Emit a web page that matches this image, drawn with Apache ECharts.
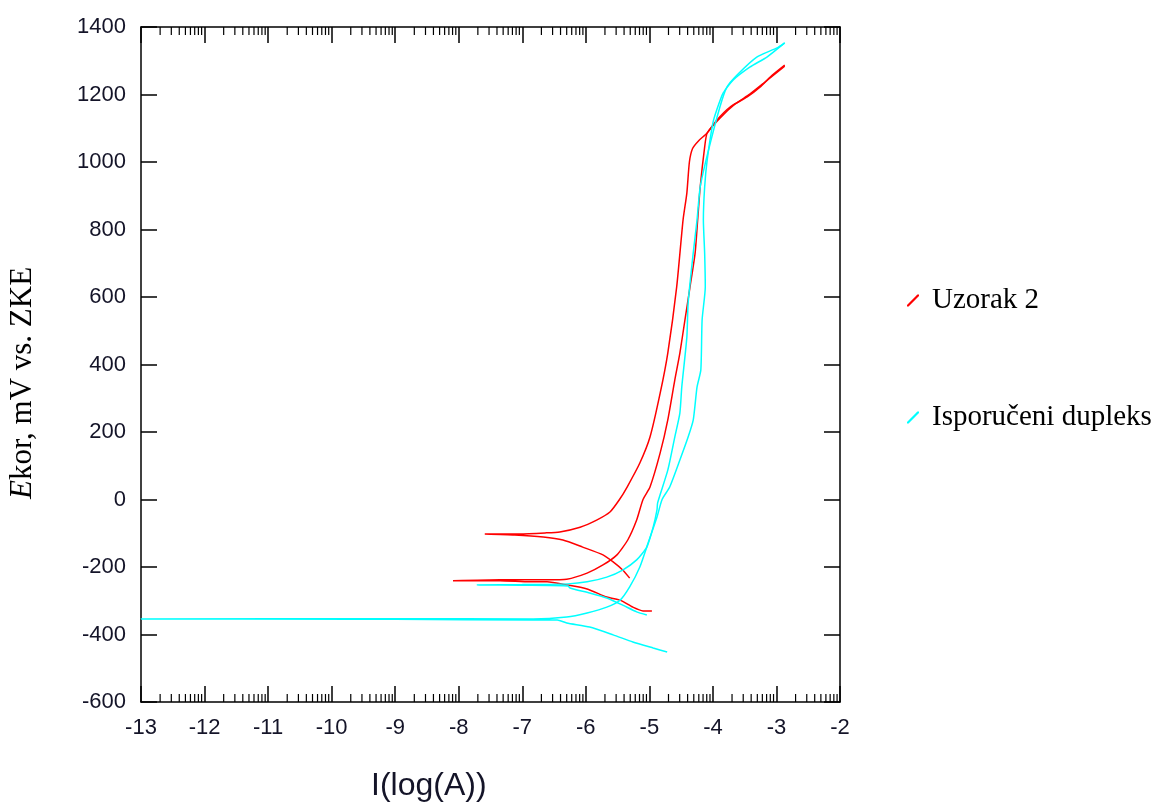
<!DOCTYPE html>
<html>
<head>
<meta charset="utf-8">
<script src="https://cdn.jsdelivr.net/npm/echarts@6/dist/echarts.min.js"></script>
<style>
  html, body { margin: 0; padding: 0; background: #fff; }
  #chart { width: 1159px; height: 806px; }
</style>
</head>
<body>
<div id="chart"></div>
<script>
// Uzorak 2 - dva mjerenja (katodna grana -> Ekor -> anodna grana)
var uzorakA = [
  [-5.31,-233],[-5.42,-209],[-5.57,-185],[-5.73,-164],[-6.05,-141],[-6.36,-120],[-6.67,-111],
  [-7.12,-105],[-7.59,-102],[-7.04,-102],[-6.64,-99],[-6.41,-96],[-6.09,-82],[-5.83,-61],
  [-5.62,-37],[-5.47,0],[-5.35,37],[-5.15,108],[-4.99,185],[-4.83,315],[-4.71,434],[-4.57,630],
  [-4.47,828],[-4.41,908],[-4.37,1000],[-4.32,1040],[-4.22,1064],[-4.09,1086],[-3.94,1124],
  [-3.73,1163],[-3.46,1193],[-3.26,1222],[-3.06,1258],[-2.87,1287]
];
var uzorakB = [
  [-4.96,-330],[-5.10,-330],[-5.26,-319],[-5.46,-298],[-5.67,-289],[-5.98,-265],[-6.30,-253],
  [-6.61,-244],[-6.88,-244],[-7.35,-241],[-8.09,-241],[-7.35,-238],[-6.61,-238],[-6.30,-236],
  [-5.98,-218],[-5.73,-194],[-5.51,-164],[-5.34,-120],[-5.20,-61],[-5.10,0],[-4.99,37],
  [-4.83,138],[-4.71,236],[-4.60,354],[-4.52,434],[-4.44,532],[-4.36,630],[-4.28,730],
  [-4.24,828],[-4.20,926],[-4.13,1044],[-4.09,1086],[-3.89,1130],[-3.65,1172],[-3.42,1201],
  [-3.18,1237],[-2.87,1284]
];
// Isporučeni dupleks
var dupleksA = [
  [-5.04,-342],[-5.20,-333],[-5.42,-313],[-5.67,-292],[-5.94,-277],[-6.25,-262],[-6.28,-256],
  [-7.00,-254],[-7.71,-253],[-7.00,-252],[-6.28,-250],[-5.98,-244],[-5.67,-230],[-5.42,-209],
  [-5.20,-179],[-5.04,-141],[-4.94,-82],[-4.88,-31],[-4.87,-10],[-4.71,87],[-4.60,185],
  [-4.52,256],[-4.49,333],[-4.41,481],[-4.39,582],[-4.31,730],[-4.25,828],[-4.20,926],
  [-4.08,1027],[-3.89,1163],[-3.78,1222],[-3.62,1258],[-3.31,1311],[-2.99,1338],[-2.87,1353]
];
var dupleksB = [
  [-4.72,-452],[-4.94,-440],[-5.26,-422],[-5.57,-401],[-5.94,-378],[-6.30,-366],[-6.45,-357],
  [-6.83,-357],[-9.00,-355],[-13.0,-354],[-9.00,-353],[-6.83,-354],[-6.30,-348],[-5.98,-336],
  [-5.67,-319],[-5.46,-298],[-5.31,-259],[-5.15,-200],[-5.02,-129],[-4.88,-52],[-4.80,0],
  [-4.68,37],[-4.52,117],[-4.39,185],[-4.31,235],[-4.25,333],[-4.19,384],[-4.17,532],
  [-4.12,630],[-4.13,730],[-4.15,828],[-4.13,926],[-4.09,1006],[-4.00,1116],[-3.94,1154],
  [-3.84,1204],[-3.68,1243],[-3.42,1281],[-3.15,1311],[-2.87,1353]
];

var xMin = -13, xMax = -2, yMin = -600, yMax = 1400;
// log-style minor ticks inside each unit of log(A)
var minorOffsets = [0.301, 0.477, 0.602, 0.699, 0.778, 0.845, 0.903, 0.954];
var minorTicks = [];
for (var d = xMin; d < xMax; d++) {
  minorOffsets.forEach(function (o) { minorTicks.push([d + o, yMin]); });
}

var labelFont = 'Liberation Sans, Arial, sans-serif';
var serifFont = 'Liberation Serif, Times New Roman, serif';
var slash = 'path://M0,12 L1.6,12 L12,1.6 L12,0 L10.4,0 L0,10.4 Z';

var chart = echarts.init(document.getElementById('chart'));
var axisLine = { show: true, onZero: false, lineStyle: { color: '#000', width: 1.5 } };
var tick = { inside: true, length: 16, lineStyle: { color: '#000', width: 1.5 } };
var tickLabel = { fontFamily: labelFont, fontSize: 22, color: '#141428',
  formatter: function (v) { return String(v); } };

var option = {
  animation: false,
  backgroundColor: '#fff',
  grid: { left: 141, top: 27, width: 699, height: 675 },
  legend: [
    { data: ['Uzorak 2'], left: 902, top: 281, icon: slash, itemWidth: 12, itemHeight: 12,
      textStyle: { fontFamily: serifFont, fontSize: 29, color: '#000', padding: [0, 0, 0, 8] } },
    { data: ['Isporučeni dupleks'], left: 902, top: 398, icon: slash, itemWidth: 12, itemHeight: 12,
      textStyle: { fontFamily: serifFont, fontSize: 29, color: '#000', padding: [0, 0, 0, 8] } }
  ],
  xAxis: [
    { type: 'value', min: xMin, max: xMax, interval: 1, position: 'bottom',
      axisLine: axisLine, splitLine: { show: false }, axisTick: tick,
      axisLabel: Object.assign({ margin: 15 }, tickLabel) },
    { type: 'value', min: xMin, max: xMax, interval: 1, position: 'top',
      axisLine: axisLine, splitLine: { show: false }, axisTick: tick,
      axisLabel: { show: false } }
  ],
  yAxis: [
    { type: 'value', min: yMin, max: yMax, interval: 200, position: 'left',
      axisLine: axisLine, splitLine: { show: false }, axisTick: tick,
      axisLabel: Object.assign({ margin: 15 }, tickLabel) },
    { type: 'value', min: yMin, max: yMax, interval: 200, position: 'right',
      axisLine: axisLine, splitLine: { show: false }, axisTick: tick,
      axisLabel: { show: false } }
  ],
  graphic: [
    { type: 'text', left: 371, top: 770,
      style: { text: 'I(log(A))', font: '32px ' + labelFont, fill: '#141428' } },
    { type: 'text', x: 7, y: 499, rotation: Math.PI / 2,
      style: {
        text: '{i|E}kor, mV vs. ZKE', fill: '#000',
        font: '31px ' + serifFont,
        rich: { i: { fontStyle: 'italic', fontFamily: serifFont, fontSize: 31 } }
      } }
  ],
  series: [
    { name: 'Uzorak 2', type: 'line', data: uzorakA },
    { name: 'Uzorak 2', type: 'line', data: uzorakB },
    { name: 'Isporučeni dupleks', type: 'line', data: dupleksA },
    { name: 'Isporučeni dupleks', type: 'line', data: dupleksB },
    { type: 'custom', data: minorTicks, silent: true, clip: false,
      renderItem: function (params, api) {
        var b = api.coord([api.value(0), yMin]);
        var t = api.coord([api.value(0), yMax]);
        var st = { stroke: '#000', lineWidth: 1.2 };
        return { type: 'group', children: [
          { type: 'line', shape: { x1: b[0], y1: b[1], x2: b[0], y2: b[1] - 8 }, style: st },
          { type: 'line', shape: { x1: t[0], y1: t[1], x2: t[0], y2: t[1] + 8 }, style: st }
        ] };
      } }
  ]
};

option.series.forEach(function (s) {
  if (s.type !== 'line') return;
  var c = s.name === 'Uzorak 2' ? '#ff0000' : '#00ffff';
  s.color = c;
  s.showSymbol = false;
  s.smooth = 0.2;
  s.lineStyle = { color: c, width: 1.5 };
  s.itemStyle = { color: c };
});

chart.setOption(option);
</script>
</body>
</html>
